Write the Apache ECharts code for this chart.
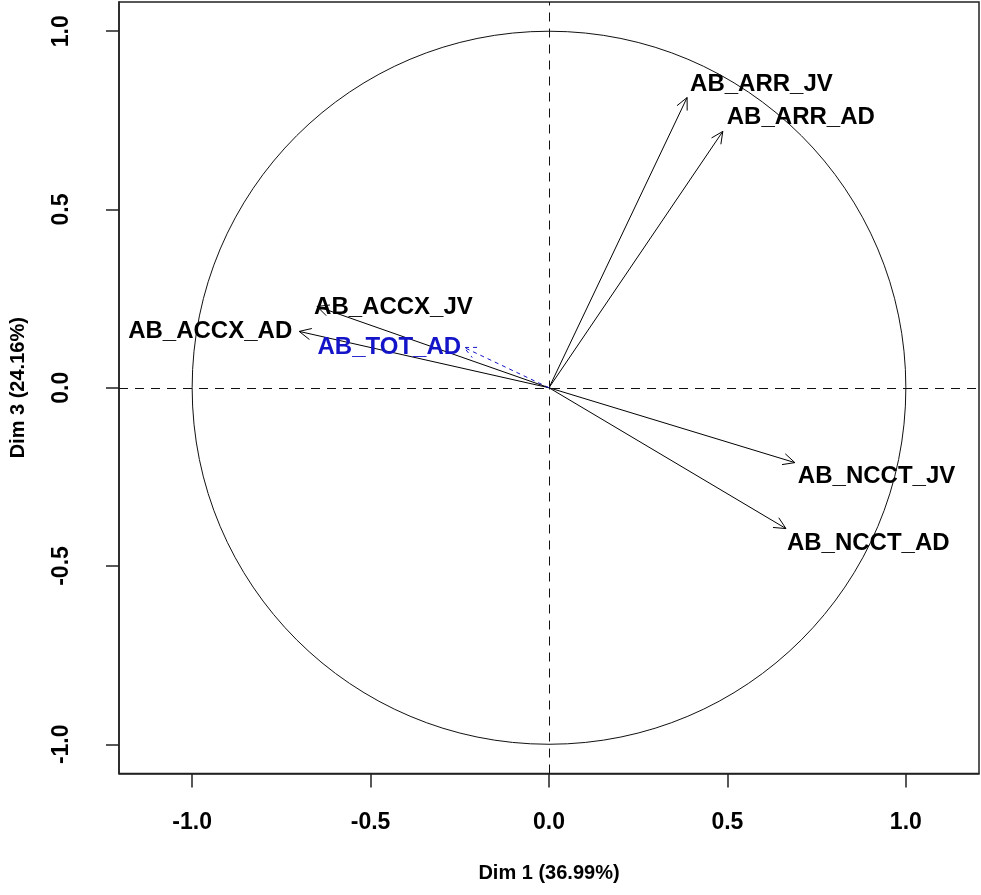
<!DOCTYPE html>
<html><head><meta charset="utf-8">
<script src="https://cdn.jsdelivr.net/npm/echarts@6/dist/echarts.min.js"></script>
<style>html,body{margin:0;padding:0;background:#fff}#c{width:981px;height:895px}</style>
</head><body><div id="c"></div>
<script>
// ---- data ----
const variables = ['AB_ARR_JV','AB_ARR_AD','AB_NCCT_JV','AB_NCCT_AD','AB_ACCX_AD','AB_ACCX_JV','AB_TOT_AD'];
const dim1 = [0.387, 0.487, 0.689, 0.664, -0.700, -0.650, -0.238];
const dim3 = [0.814, 0.719, -0.210, -0.395, 0.158, 0.228, 0.113];
const supplementary = [false, false, false, false, false, false, true];
const tickValues = [-1.0, -0.5, 0.0, 0.5, 1.0];
const xTitle = 'Dim 1 (36.99%)';
const yTitle = 'Dim 3 (24.16%)';

// ---- styling ----
const BLUE = '#1414c8';
const labelPlace = {
  'AB_ARR_JV':  {align:'left',  dx: 3,  dy:-13},
  'AB_ARR_AD':  {align:'left',  dx: 4,  dy:-14},
  'AB_NCCT_JV': {align:'left',  dx: 3,  dy: 14},
  'AB_NCCT_AD': {align:'left',  dx: 1,  dy: 15},
  'AB_ACCX_AD': {align:'right', dx:-7,  dy: 0},
  'AB_ACCX_JV': {align:'left',  dx:-3,  dy: 1},
  'AB_TOT_AD':  {align:'right', dx:-3,  dy: 0}
};
const points = variables.map((n,i)=>[dim1[i], dim3[i], n]);

const chart = echarts.init(document.getElementById('c'));
const axisFont = {fontFamily:'Liberation Sans, Arial, sans-serif', fontWeight:'bold', fontSize:23, color:'#000'};
const titleFont = {fontFamily:'Liberation Sans, Arial, sans-serif', fontWeight:'bold', fontSize:20, color:'#000'};

chart.setOption({
  animation:false,
  backgroundColor:'#fff',
  grid:{left:119, top:2, width:860, height:771.5, containLabel:false, outerBoundsMode:'none',
    show:true, borderColor:'#222', borderWidth:1.5, backgroundColor:'transparent'},
  xAxis:{type:'value', min:-1.205, max:1.205,
    name:xTitle, nameLocation:'middle', nameGap:90, nameTextStyle:titleFont,
    axisLine:{show:true, onZero:false, lineStyle:{color:'#222', width:1.5}},
    axisTick:{show:true, customValues:tickValues, length:14, lineStyle:{color:'#222', width:1.5}},
    axisLabel:{customValues:tickValues, formatter:v=>v.toFixed(1), margin:38, ...axisFont},
    splitLine:{show:false}},
  yAxis:{type:'value', min:-1.082, max:1.082,
    name:yTitle, nameLocation:'middle', nameGap:91, nameRotate:90, nameTextStyle:titleFont,
    axisLine:{show:true, onZero:false, lineStyle:{color:'#222', width:1.5}},
    axisTick:{show:true, customValues:tickValues, length:13, lineStyle:{color:'#222', width:1.5}},
    axisLabel:{customValues:tickValues, formatter:v=>v.toFixed(1), rotate:90, margin:46, ...axisFont},
    splitLine:{show:false}},
  series:[
    {type:'custom', name:'circle', silent:true, data:[[0,0]], clip:false,
      renderItem:(params, api)=>{
        const c = api.coord([0,0]);
        const s = api.size([1,1]);
        return {type:'ellipse', shape:{cx:c[0], cy:c[1], rx:s[0], ry:s[1]},
          style:{fill:null, stroke:'#111', lineWidth:1}};
      },
      markLine:{silent:true, symbol:'none', animation:false, label:{show:false},
        lineStyle:{color:'#111', width:1, type:[9,7]},
        data:[{xAxis:0},{yAxis:0}]}},
    {type:'custom', name:'arrows', silent:true, data:points,
      renderItem:(params, api)=>{
        const i = params.dataIndex;
        const o = api.coord([0,0]);
        const t = api.coord([api.value(0), api.value(1)]);
        const ang = Math.atan2(t[1]-o[1], t[0]-o[0]);
        const L = 13, A = Math.PI/7;
        const p1 = [t[0]-L*Math.cos(ang-A), t[1]-L*Math.sin(ang-A)];
        const p2 = [t[0]-L*Math.cos(ang+A), t[1]-L*Math.sin(ang+A)];
        const sup = supplementary[i];
        const col = sup ? BLUE : '#000';
        const style = {stroke: col, lineWidth:1, lineDash: sup?[4,4]:null, fill:null};
        const lp = labelPlace[variables[i]];
        return {type:'group', children:[
          {type:'line', shape:{x1:o[0], y1:o[1], x2:t[0], y2:t[1]}, style:style},
          {type:'polyline', shape:{points:[p1, t, p2]}, style:style},
          {type:'text', x:t[0]+lp.dx, y:t[1]+lp.dy, style:{text:variables[i], fill:col,
            font:'bold 24px "Liberation Sans", Arial, sans-serif', textAlign:lp.align, textVerticalAlign:'middle'}}
        ]};
      }}
  ]
});
</script></body></html>
